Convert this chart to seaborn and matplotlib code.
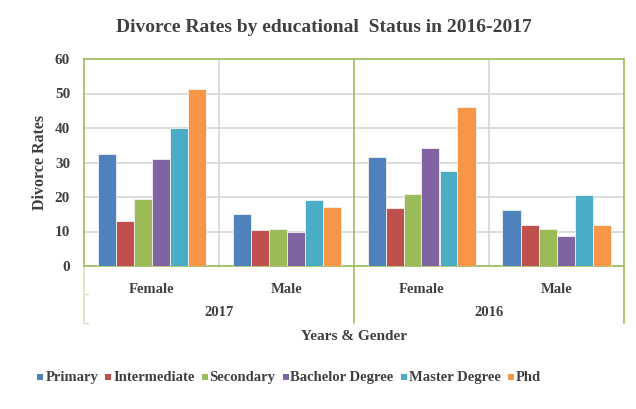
import numpy as np
import pandas as pd

import matplotlib.pyplot as plt
from matplotlib.lines import Line2D
from matplotlib.patches import Rectangle
import seaborn as sns
sns.set_theme(style='white')
plt.rcParams['font.family'] = ['Liberation Serif', 'DejaVu Serif']
plt.rcParams['font.weight'] = 'bold'
plt.rcParams['axes.labelweight'] = 'bold'

# -----------------------------------------------------------------------------
# data
# -----------------------------------------------------------------------------

years = ['2017', '2016']
genders = ['Female', 'Male']
levels = ['Primary', 'Intermediate', 'Secondary', 'Bachelor Degree', 'Master Degree', 'Phd']

# one list per year/gender group, in the order of levels
rates_2017_female = [32.4, 12.9, 19.3, 31.1, 40.0, 51.3]
rates_2017_male = [15.0, 10.4, 10.7, 10.0, 19.0, 17.2]
rates_2016_female = [31.7, 16.7, 21.0, 34.3, 27.5, 46.1]
rates_2016_male = [16.2, 11.9, 10.7, 8.6, 20.7, 11.9]

colors = ['#4F81BD', '#C0504D', '#9BBB59', '#8064A2', '#4BACC6', '#F79646']

groups = {
    ('2017', 'Female'): rates_2017_female,
    ('2017', 'Male'): rates_2017_male,
    ('2016', 'Female'): rates_2016_female,
    ('2016', 'Male'): rates_2016_male,
}

rows = []
for (y, g), vals in groups.items():
    for lvl, v in zip(levels, vals):
        rows.append({'Group': f'{y} {g}', 'Year': y, 'Gender': g, 'Level': lvl, 'Rate': v})
df = pd.DataFrame(rows)
order = [f'{y} {g}' for y in years for g in genders]

# -----------------------------------------------------------------------------
# plot
# -----------------------------------------------------------------------------

text_color = '#404040'
frame_color = '#9BBB59'
grid_color = '#D9D9D9'

W, H = 636, 409
fig = plt.figure(figsize=(W/100, H/100), dpi=100)
ax = fig.add_axes([84/W, 1 - 266/H, 540/W, 207/H])

sns.barplot(
    data=df, x='Group', y='Rate', hue='Level', order=order, hue_order=levels,
    palette=colors, saturation=1, width=0.8, edgecolor='#F2F2F2', linewidth=0.6,
    ax=ax, legend=False, zorder=3
)

ax.set_xlim(-0.5, 3.5)
ax.set_ylim(0, 60)
ax.set_yticks(range(0, 61, 10))
ax.yaxis.grid(True, color=grid_color, lw=1.3, zorder=0)
ax.set_axisbelow(True)
for s in ax.spines.values():
    s.set_color(frame_color)
    s.set_linewidth(1.2)
ax.tick_params(axis='y', length=0, pad=10, labelsize=11, labelcolor=text_color)
ax.tick_params(axis='x', length=0, pad=12, labelsize=10.5, labelcolor=text_color)
ax.set_xticks(range(4))
ax.set_xticklabels([g for y in years for g in genders], fontweight='bold')
ax.set_yticklabels([str(v) for v in range(0, 61, 10)], fontweight='bold')
ax.set_xlabel('')
ax.set_ylabel('Divorce Rates', fontsize=11.5, fontweight='bold', color=text_color, labelpad=5)

# vertical separators between the category groups
for xv in [0.5, 2.5]:
    ax.axvline(xv, color=grid_color, lw=1.3, zorder=0)
ax.axvline(1.5, color=frame_color, lw=1.2, zorder=1)

# second level of the category axis (years)
trans = ax.get_xaxis_transform()
for xv, c in [(-0.5, '#D7E4BD'), (1.5, frame_color), (3.5, frame_color)]:
    ax.add_line(Line2D([xv, xv], [0, -57/207], transform=trans, color=c, lw=1.2, clip_on=False))
for yy in [-28/207, -57/207]:
    ax.add_line(Line2D([-0.5, -0.47], [yy, yy], transform=trans, color='#D7E4BD', lw=1, clip_on=False))
for i, y in enumerate(years):
    ax.text(0.5 + 2*i, -47/207, y, transform=trans, ha='center', va='center',
            fontsize=10.5, fontweight='bold', color=text_color)

fig.text(354/W, 1 - 337/H, 'Years & Gender', ha='center', va='center',
         fontsize=11, fontweight='bold', color=text_color)
fig.text(324/W, 1 - 28/H, 'Divorce Rates by educational  Status in 2016-2017',
         ha='center', va='center', fontsize=14, fontweight='bold', color=text_color)

# legend drawn item by item so that all labels share one baseline
renderer = fig.canvas.get_renderer()
baseline = 381
box, gap, spacing = 6, 2, 7
x = 0
layout = []
for lvl in levels:
    t = fig.text(0, 1 - baseline/H, lvl, ha='left', va='baseline', fontsize=10.5,
                 fontweight='bold', color=text_color)
    w = t.get_window_extent(renderer).width
    layout.append((x, t, w))
    x += box + gap + w + spacing
total = x - spacing
x0 = 289 - total/2
for (dx, t, w), c in zip(layout, colors):
    fig.add_artist(Rectangle(((x0 + dx)/W, 1 - (baseline - 1)/H), box/W, box/H,
                             transform=fig.transFigure, facecolor=c, edgecolor='none'))
    t.set_x((x0 + dx + box + gap)/W)

fig.savefig('out.png', dpi=100)
plt.close('all')
